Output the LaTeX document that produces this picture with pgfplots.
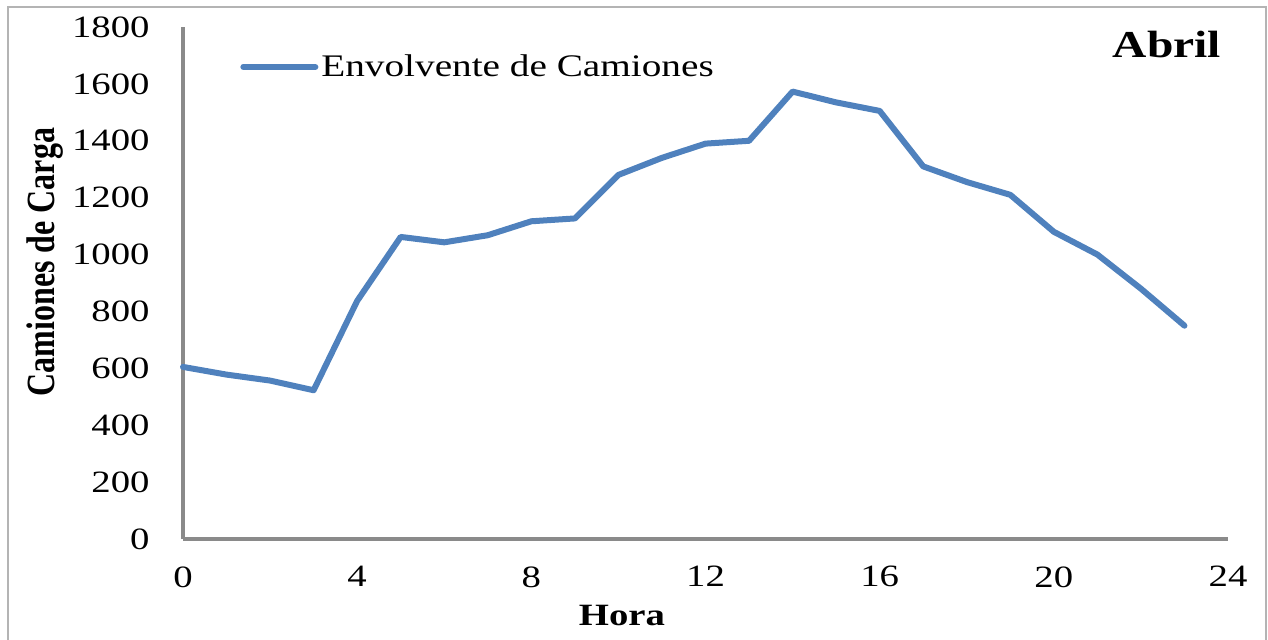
\documentclass[border=0pt]{standalone}
\usepackage{pgfplots}
\pgfplotsset{compat=1.18}
\usepackage{fontspec}
\setmainfont{Liberation Serif}
\definecolor{linecol}{HTML}{4F81BD}
\definecolor{axcol}{HTML}{8A8A8A}
\definecolor{framecol}{HTML}{B4B4B4}
\newcommand{\wide}[1]{\scalebox{1.25}[1]{#1}}
\begin{document}
\begin{tikzpicture}
\useasboundingbox (-91.5pt,-50pt) rectangle (542.5pt,269.5pt);
\draw[framecol, line width=1pt] (-87.5pt,-60pt) rectangle (541.5pt,266pt);
\begin{axis}[
  at={(0,0)}, anchor=south west,
  scale only axis, width=522.5pt, height=256pt,
  xmin=0, xmax=24, ymin=0, ymax=1800,
  xtick={0,4,...,24}, ytick={0,200,...,1800},
  xticklabels={\wide{0},\wide{4},\wide{8},\wide{12},\wide{16},\wide{20},\wide{24}},
  yticklabels={\wide{0},\wide{200},\wide{400},\wide{600},\wide{800},\wide{1000},\wide{1200},\wide{1400},\wide{1600},\wide{1800}},
  axis lines=left,
  axis line style={axcol, line width=1.75pt, -},
  major tick length=0pt,
  tick style={draw=none},
  tick label style={font=\fontsize{15.5}{18}\selectfont},
  y tick label style={anchor=east, inner sep=0pt, xshift=-16.5pt},
  x tick label style={anchor=north, inner sep=0pt, yshift=-13.5pt},
  legend style={draw=none, fill=none, at={(0.0545,0.922)}, anchor=west,
    font=\fontsize{15.7}{18}\selectfont, inner sep=0pt,
    nodes={inner sep=1.5pt}},
  legend cell align=left,
  legend image code/.code={\draw[#1] (0pt,0pt) -- (36pt,0pt);},
  clip=false,
]
\addplot[linecol, line width=3pt, line join=round, line cap=round] coordinates {
(0,605) (1,578) (2,557) (3,523) (4,837) (5,1062) (6,1043) (7,1068)
(8,1117) (9,1127) (10,1280) (11,1340) (12,1390) (13,1400) (14,1573)
(15,1535) (16,1505) (17,1310) (18,1255) (19,1210) (20,1080) (21,1000)
(22,880) (23,750)
};
\addlegendentry{\wide{Envolvente de Camiones}}
\end{axis}
\node[font=\bfseries\fontsize{16}{18}\selectfont] at (-69pt,138.5pt) {\wide{\rotatebox{90}{Camiones de Carga}}};
\node[font=\bfseries\fontsize{15.5}{18}\selectfont] at (219.5pt,-38pt) {\wide{Hora}};
\node[anchor=east, font=\bfseries\fontsize{19}{22}\selectfont] at (522.5pt,247pt) {\wide{Abril}};
\end{tikzpicture}
\end{document}
